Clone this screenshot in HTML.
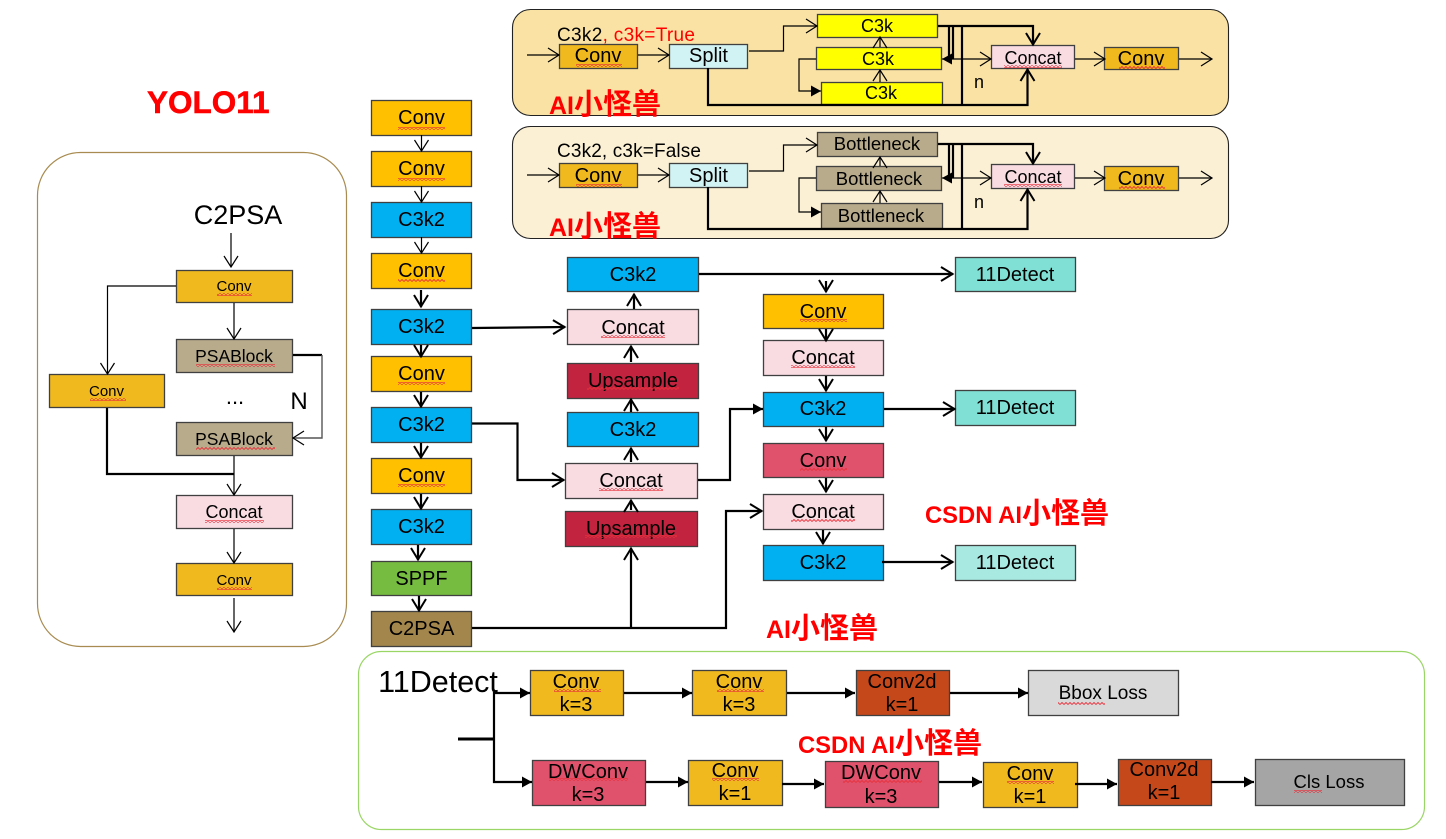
<!DOCTYPE html>
<html><head><meta charset="utf-8"><style>
html,body{margin:0;padding:0;background:#fff;width:1446px;height:839px;overflow:hidden}
svg{display:block}
text{font-family:"Liberation Sans","Noto Sans CJK SC",sans-serif;fill:#000;text-anchor:middle}
.r rect,rect.r{stroke:#404040;stroke-width:1.3}
.l{fill:none;stroke:#000;stroke-width:1.2}
.t{stroke-width:2.2}
.h{stroke-width:3}
.red{fill:#f00;font-weight:bold;text-anchor:start}
.cj{font-size:29px}
</style></head><body>
<svg width="1446" height="839" viewBox="0 0 1446 839" xmlns="http://www.w3.org/2000/svg">
<defs>
<pattern id="w" width="4" height="3" patternUnits="userSpaceOnUse"><path d="M0 2.5L2 .5L4 2.5" fill="none" stroke="#e8303a" stroke-width=".9"/></pattern>
<marker id="v" markerUnits="userSpaceOnUse" markerWidth="24" markerHeight="24" refX="12" refY="12" orient="auto" overflow="visible"><path d="M1 5L12 12L1 19" fill="none" stroke="#000" stroke-width="1.2"/></marker>
<marker id="V" markerUnits="userSpaceOnUse" markerWidth="24" markerHeight="24" refX="12" refY="12" orient="auto" overflow="visible"><path d="M0 5L11.500 12L0 19" fill="none" stroke="#000" stroke-width="2"/></marker>
<marker id="f" markerUnits="userSpaceOnUse" markerWidth="24" markerHeight="24" refX="12" refY="12" orient="auto" overflow="visible"><path d="M2 6.500L12 12L2 17.500Z" fill="#000"/></marker>
</defs>

<!-- panels -->
<rect x="512.5" y="9.5" width="716" height="106" rx="18" fill="#F9E2A4" stroke="#222" stroke-width="1.1"/>
<rect x="512.5" y="126.5" width="716" height="112" rx="18" fill="#FBF0D4" stroke="#222" stroke-width="1.1"/>
<rect x="37.5" y="152.5" width="309" height="494" rx="43" fill="#fff" stroke="#A88B50" stroke-width="1.2"/>
<rect x="358.5" y="651.5" width="1066" height="178" rx="23" fill="#fff" stroke="#9AD666" stroke-width="1.2"/>

<!-- boxes -->
<g class="r">
<rect x="559.5" y="44.5" width="78" height="24" fill="#F0B91E"/>
<rect x="669.5" y="44.5" width="78" height="24" fill="#D2F3F3"/>
<rect x="817.5" y="14.5" width="120" height="23" fill="#FFFF00"/>
<rect x="816.5" y="47.5" width="125" height="22" fill="#FFFF00"/>
<rect x="821.5" y="82.5" width="121" height="22" fill="#FFFF00"/>
<rect x="991.5" y="45.5" width="83" height="23" fill="#F8DCE2"/>
<rect x="1104.5" y="47.5" width="74" height="22" fill="#F0B91E"/>

<rect x="559.5" y="163.5" width="78" height="24" fill="#F0B91E"/>
<rect x="669.5" y="163.5" width="78" height="24" fill="#D2F3F3"/>
<rect x="817.5" y="132.5" width="120" height="24" fill="#B8AB8C"/>
<rect x="816.5" y="166.5" width="125" height="24" fill="#B8AB8C"/>
<rect x="821.5" y="203.5" width="121" height="25" fill="#B8AB8C"/>
<rect x="991.5" y="164.5" width="83" height="24" fill="#F8DCE2"/>
<rect x="1104.5" y="166.5" width="74" height="24" fill="#F0B91E"/>

<rect x="176.5" y="270.5" width="116" height="32" fill="#F0B91E"/>
<rect x="176.5" y="339.5" width="116" height="33" fill="#B8AB8C"/>
<rect x="49.5" y="374.5" width="115" height="33" fill="#F0B91E"/>
<rect x="176.5" y="422.5" width="116" height="33" fill="#B8AB8C"/>
<rect x="176.5" y="495.5" width="116" height="33" fill="#F8DCE2"/>
<rect x="176.5" y="563.5" width="116" height="32" fill="#F0B91E"/>

<rect x="371.5" y="100.5" width="100" height="35" fill="#FFC000"/>
<rect x="371.5" y="151.5" width="100" height="35" fill="#FFC000"/>
<rect x="371.5" y="202.5" width="100" height="35" fill="#00B0F0"/>
<rect x="371.5" y="253.5" width="100" height="35" fill="#FFC000"/>
<rect x="371.5" y="309.5" width="100" height="35" fill="#00B0F0"/>
<rect x="371.5" y="356.5" width="100" height="35" fill="#FFC000"/>
<rect x="371.5" y="407.5" width="100" height="35" fill="#00B0F0"/>
<rect x="371.5" y="458.5" width="100" height="35" fill="#FFC000"/>
<rect x="371.5" y="509.5" width="100" height="35" fill="#00B0F0"/>
<rect x="371.5" y="561.5" width="100" height="34" fill="#76BC40"/>
<rect x="371.5" y="611.5" width="100" height="35" fill="#A3864C"/>

<rect x="567.5" y="257.5" width="131" height="34" fill="#00B0F0"/>
<rect x="567.5" y="309.5" width="131" height="35" fill="#F8DCE2"/>
<rect x="567.5" y="363.5" width="131" height="35" fill="#C2233F"/>
<rect x="567.5" y="412.5" width="131" height="34" fill="#00B0F0"/>
<rect x="565.5" y="463.5" width="132" height="35" fill="#F8DCE2"/>
<rect x="565.5" y="511.5" width="132" height="35" fill="#C2233F"/>

<rect x="763.5" y="294.5" width="120" height="34" fill="#FFC000"/>
<rect x="763.5" y="340.5" width="120" height="35" fill="#F8DCE2"/>
<rect x="763.5" y="392.5" width="120" height="34" fill="#00B0F0"/>
<rect x="763.5" y="443.5" width="120" height="34" fill="#E0526C"/>
<rect x="763.5" y="494.5" width="120" height="35" fill="#F8DCE2"/>
<rect x="763.5" y="545.5" width="120" height="35" fill="#00B0F0"/>
<rect x="955.5" y="257.5" width="120" height="34" fill="#80E0D5"/>
<rect x="955.5" y="390.5" width="120" height="35" fill="#80E0D5"/>
<rect x="955.5" y="545.5" width="120" height="35" fill="#A8E9E2"/>

<rect x="530.5" y="670.5" width="93" height="45" fill="#F0B91E"/>
<rect x="692.5" y="670.5" width="94" height="45" fill="#F0B91E"/>
<rect x="856.5" y="670.5" width="93" height="45" fill="#C5481B"/>
<rect x="1028.5" y="670.5" width="150" height="45" fill="#D9D9D9"/>
<rect x="532.5" y="760.5" width="113" height="45" fill="#E0526C"/>
<rect x="688.5" y="760.5" width="94" height="45" fill="#F0B91E"/>
<rect x="825.5" y="761.5" width="113" height="46" fill="#E0526C"/>
<rect x="983.5" y="762.5" width="94" height="45" fill="#F0B91E"/>
<rect x="1118.5" y="759.5" width="93" height="46" fill="#C5481B"/>
<rect x="1255.5" y="759.5" width="149" height="46" fill="#A5A5A5"/>
</g>

<!-- connectors: top panel 1 -->
<g class="l">
<path d="M527 55H559" marker-end="url(#v)"/>
<path d="M638 55H669" marker-end="url(#v)"/>
<path d="M749 51H783.5V26H817" marker-end="url(#v)"/>
<path d="M880 82V70" marker-end="url(#v)"/>
<path d="M880 47V37" marker-end="url(#v)"/>
<path d="M816 59H799V91H821" marker-end="url(#f)"/>
<path d="M1075 59H1105" marker-end="url(#v)"/>
<path d="M1179 59H1212" marker-end="url(#v)"/>
<path d="M945 59H991" marker-end="url(#v)"/>
<path d="M950 59H942" marker-end="url(#f)"/>
<path class="t" d="M938 26H1033V45" marker-end="url(#V)"/>
<path class="t" d="M953 26V59"/><path class="t" d="M949 26V59"/>
<path class="t" d="M962 26V105"/>
<path class="t" d="M708 68V105H1027.5V69" marker-end="url(#V)"/>
</g>
<!-- panel 2 -->
<g class="l">
<path d="M527 175H559" marker-end="url(#v)"/>
<path d="M638 175H669" marker-end="url(#v)"/>
<path d="M749 171H783.5V145H817" marker-end="url(#v)"/>
<path d="M880 203V191" marker-end="url(#v)"/>
<path d="M880 166V157" marker-end="url(#v)"/>
<path d="M816 178H799V212H821" marker-end="url(#f)"/>
<path d="M1075 178H1105" marker-end="url(#v)"/>
<path d="M1179 178H1212" marker-end="url(#v)"/>
<path d="M945 178H991" marker-end="url(#v)"/>
<path d="M950 178H942" marker-end="url(#f)"/>
<path class="t" d="M938 144H1033V164" marker-end="url(#V)"/>
<path class="t" d="M953 144V178"/><path class="t" d="M949 144V178"/>
<path class="t" d="M962 144V229"/>
<path class="t" d="M708 187V229H1027.5V189" marker-end="url(#V)"/>
</g>
<!-- C2PSA panel -->
<g class="l">
<path d="M231 233V267" marker-end="url(#v)"/>
<path d="M234 303V339" marker-end="url(#v)"/>
<path d="M176 286H107.5V374" marker-end="url(#v)"/>
<path class="t" d="M293 355H322" />
<path d="M322 355V438H293" marker-end="url(#v)" stroke="#555" stroke-width="1.4"/>
<path class="t" d="M107 408V474H234" />
<path d="M234 456V495" marker-end="url(#v)"/>
<path d="M234 529V563" marker-end="url(#v)"/>
<path d="M234 598V632" marker-end="url(#v)"/>
</g>
<!-- main columns -->
<g class="l">
<path d="M421.5 135V151" marker-end="url(#v)"/>
<path d="M421.5 186V202" marker-end="url(#v)"/>
<path d="M421.5 237V253" marker-end="url(#v)"/>
</g>
<g class="l t">
<path d="M421 290V307" marker-end="url(#V)"/>
<path d="M421 345V357" marker-end="url(#V)"/>
<path d="M421 392V407" marker-end="url(#V)"/>
<path d="M421 443V458" marker-end="url(#V)"/>
<path d="M421 494V509" marker-end="url(#V)"/>
<path d="M418 545V560" marker-end="url(#V)"/>
<path d="M419 596V611" marker-end="url(#V)"/>
<path d="M472 328L565 327" marker-end="url(#V)"/>
<path d="M472 423.5H517.5V480H564" marker-end="url(#V)"/>
<path d="M634 309V294" marker-end="url(#V)"/>
<path d="M631 362V346" marker-end="url(#V)"/>
<path d="M631 412V399" marker-end="url(#V)"/>
<path d="M631 462V448" marker-end="url(#V)"/>
<path d="M631 510V500" marker-end="url(#V)"/>
<path d="M472 628H726V511H762" marker-end="url(#V)"/>
<path d="M631 628V548" marker-end="url(#V)"/>
<path d="M698 480H730V409H763" marker-end="url(#f)"/>
<path d="M699 274H953" marker-end="url(#V)"/>
<path d="M826 281V292" marker-end="url(#V)"/>
<path d="M826 329V341" marker-end="url(#V)"/>
<path d="M826 376V391" marker-end="url(#V)"/>
<path d="M826 427V441" marker-end="url(#V)"/>
<path d="M826 478V492" marker-end="url(#V)"/>
<path d="M823 530V544" marker-end="url(#V)"/>
<path d="M884 409H955" marker-end="url(#V)"/>
<path d="M882 562H953" marker-end="url(#V)"/>
</g>
<!-- detect -->
<g class="l t">
<path class="h" d="M458 739H495"/>
<path d="M494 739V693H530" marker-end="url(#f)"/>
<path d="M494 739V782H532" marker-end="url(#f)"/>
<path d="M624 693H692" marker-end="url(#f)"/>
<path d="M787 693H855" marker-end="url(#f)"/>
<path d="M950 693H1028" marker-end="url(#f)"/>
<path d="M646 782H688" marker-end="url(#f)"/>
<path d="M782 784H824" marker-end="url(#f)"/>
<path d="M939 782H982" marker-end="url(#f)"/>
<path d="M1075 784H1117" marker-end="url(#f)"/>
<path d="M1211 782H1254" marker-end="url(#f)"/>
</g>

<!-- labels -->
<g font-size="20">
<text x="598" y="62">Conv</text><text x="708.500" y="62">Split</text>
<text x="877" y="32" font-size="18">C3k</text><text x="878" y="65" font-size="18">C3k</text><text x="881" y="99" font-size="18">C3k</text>
<text x="1033" y="64" font-size="18">Concat</text><text x="1141" y="65">Conv</text>
<text x="598" y="182">Conv</text><text x="708.500" y="182">Split</text>
<text x="877" y="150" font-size="18.500">Bottleneck</text><text x="879" y="185" font-size="18.500">Bottleneck</text><text x="881" y="222" font-size="18.500">Bottleneck</text>
<text x="1033" y="183" font-size="18">Concat</text><text x="1141" y="185">Conv</text>
</g>
<text x="557" y="41" font-size="19" style="text-anchor:start" textLength="138">C3k2<tspan style="fill:#f00">, c3k=True</tspan></text>
<text x="557" y="157" font-size="19" style="text-anchor:start" textLength="144">C3k2, c3k=False</text>
<text x="979" y="88" font-size="18">n</text>
<text x="979" y="208" font-size="18">n</text>
<text class="red" x="549" y="114" font-size="25">AI<tspan class="cj">小怪兽</tspan></text>
<text class="red" x="549" y="236" font-size="25">AI<tspan class="cj">小怪兽</tspan></text>
<text class="red" x="147" y="113" font-size="31.500" stroke="#f00" stroke-width=".5">YOLO11</text>
<text class="red" x="925" y="523" font-size="23.800">CSDN AI<tspan class="cj">小怪兽</tspan></text>
<text class="red" x="766" y="638" font-size="25">AI<tspan class="cj">小怪兽</tspan></text>
<text class="red" x="798" y="753" font-size="23.800">CSDN AI<tspan class="cj">小怪兽</tspan></text>

<text x="238" y="224" font-size="27">C2PSA</text>
<g font-size="15"><text x="234" y="291">Conv</text><text x="106.500" y="396">Conv</text><text x="234" y="585">Conv</text></g>
<g font-size="17.500"><text x="234" y="362">PSABlock</text><text x="234" y="445">PSABlock</text></g>
<text x="234" y="518" font-size="18">Concat</text>
<text x="235" y="404" font-size="22">...</text>
<text x="299" y="409" font-size="24">N</text>

<g font-size="20">
<text x="421.500" y="124">Conv</text><text x="421.500" y="175">Conv</text><text x="421.500" y="226">C3k2</text><text x="421.500" y="277">Conv</text>
<text x="421.500" y="333">C3k2</text><text x="421.500" y="380">Conv</text><text x="421.500" y="431">C3k2</text><text x="421.500" y="482">Conv</text>
<text x="421.500" y="533">C3k2</text><text x="421.500" y="585">SPPF</text><text x="421.500" y="635">C2PSA</text>
<text x="633" y="281">C3k2</text><text x="633" y="334">Concat</text><text x="633" y="387">Upsample</text><text x="633" y="436">C3k2</text>
<text x="631" y="487">Concat</text><text x="631" y="535">Upsample</text>
<text x="823" y="318">Conv</text><text x="823" y="364">Concat</text><text x="823" y="415">C3k2</text><text x="823" y="467">Conv</text><text x="823" y="518">Concat</text><text x="823" y="569">C3k2</text>
<text x="1015" y="281">11Detect</text><text x="1015" y="414">11Detect</text><text x="1015" y="569">11Detect</text>
<text x="576" y="688">Conv</text><text x="576" y="711">k=3</text>
<text x="739" y="688">Conv</text><text x="739" y="711">k=3</text>
<text x="902" y="688">Conv2d</text><text x="902" y="711">k=1</text>
<text x="588" y="778">DWConv</text><text x="588" y="801">k=3</text>
<text x="735" y="777">Conv</text><text x="735" y="800">k=1</text>
<text x="881" y="779">DWConv</text><text x="881" y="803">k=3</text>
<text x="1030" y="780">Conv</text><text x="1030" y="803">k=1</text>
<text x="1164" y="776">Conv2d</text><text x="1164" y="799">k=1</text>
</g>
<text x="1103" y="699" font-size="19">Bbox Loss</text>
<text x="1329" y="788" font-size="18.500">Cls Loss</text>
<text x="438" y="692" font-size="30.500">11Detect</text>

<!-- spell-check squiggles -->
<g fill="url(#w)">
<rect x="576" y="64" width="46" height="3"/><rect x="1004" y="65" width="58" height="3"/><rect x="1119" y="66" width="46" height="3"/>
<rect x="576" y="184" width="46" height="3"/><rect x="1004" y="184" width="58" height="3"/><rect x="1119" y="186" width="46" height="3"/>
<rect x="217" y="293" width="35" height="3"/><rect x="90" y="398" width="36" height="3"/><rect x="217" y="587" width="35" height="3"/>
<rect x="196" y="364" width="79" height="3"/><rect x="196" y="447" width="79" height="3"/><rect x="205" y="520" width="59" height="3"/>
<rect x="398" y="127" width="47" height="3"/><rect x="398" y="178" width="47" height="3"/><rect x="398" y="279" width="47" height="3"/><rect x="398" y="382" width="47" height="3"/><rect x="398" y="484" width="47" height="3"/>
<rect x="601" y="335" width="64" height="3"/><rect x="587" y="387" width="92" height="3"/><rect x="599" y="488" width="64" height="3"/><rect x="585" y="535" width="92" height="3"/>
<rect x="800" y="319" width="47" height="3"/><rect x="791" y="365" width="64" height="3"/><rect x="800" y="468" width="47" height="3"/><rect x="791" y="519" width="64" height="3"/>
<rect x="554" y="689" width="47" height="3"/><rect x="717" y="689" width="47" height="3"/><rect x="549" y="778" width="79" height="3"/><rect x="712" y="778" width="47" height="3"/><rect x="843" y="780" width="79" height="3"/><rect x="1007" y="781" width="47" height="3"/>
<rect x="1058" y="702" width="47" height="3"/><rect x="1294" y="790" width="28" height="3"/>
</g>
</svg>
</body></html>
